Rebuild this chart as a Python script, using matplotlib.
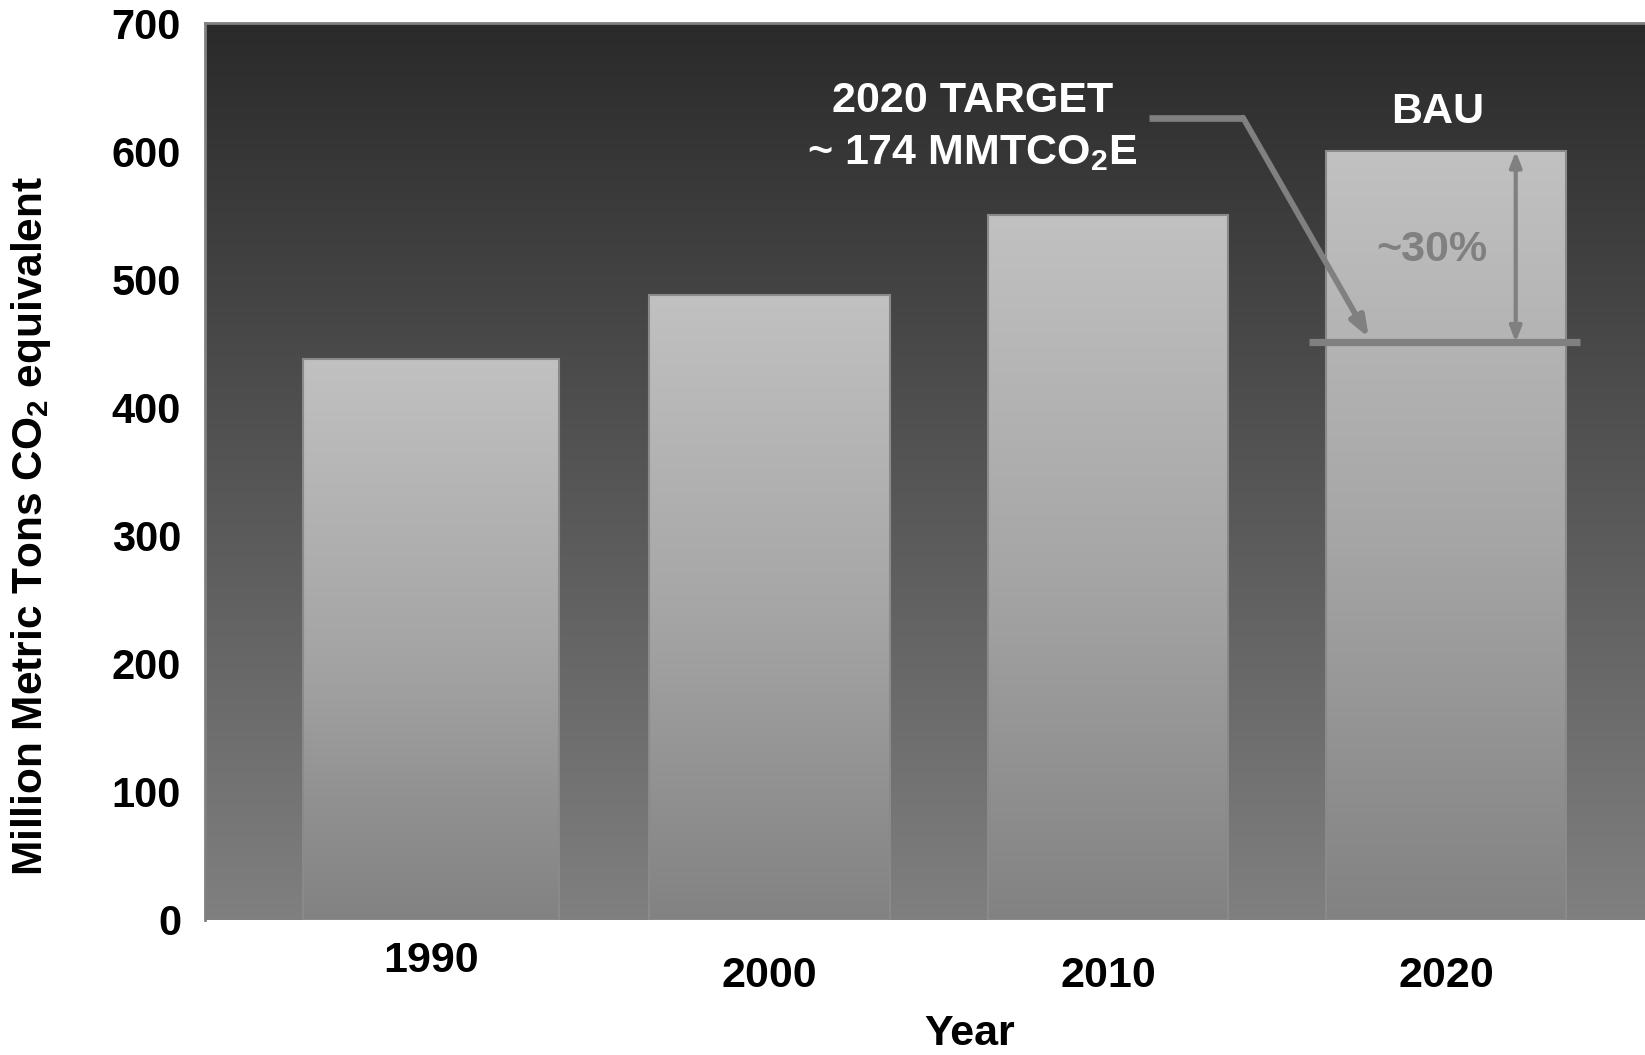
import matplotlib
matplotlib.use("Agg")
import matplotlib.pyplot as plt
import numpy as np
from matplotlib.colors import LinearSegmentedColormap
from matplotlib.patches import Rectangle

plt.rcParams['font.family'] = ['Liberation Sans', 'DejaVu Sans']
plt.rcParams['font.weight'] = 'bold'
plt.rcParams['mathtext.fontset'] = 'custom'
plt.rcParams['mathtext.rm'] = 'Liberation Sans:bold'
plt.rcParams['mathtext.it'] = 'Liberation Sans:bold'
plt.rcParams['mathtext.bf'] = 'Liberation Sans:bold'

# ---- data ----
years = ["1990", "2000", "2010", "2020"]
emissions = [438, 488, 550, 600]
target_2020 = 451
y_ticks = [0, 100, 200, 300, 400, 500, 600, 700]

# ---- styles ----
bar_widths = [0.757, 0.71, 0.71, 0.71]
FS = 31
FS_TICK = 30

fig = plt.figure(figsize=(16.45, 10.55), dpi=100)
ax = fig.add_axes([0.1244, 0.128, 0.8756, 0.850])
xlim = (-0.6695, 3.587)
ylim = (0, 700)
ax.set_xlim(*xlim)
ax.set_ylim(*ylim)

# background gradient
bg_cmap = LinearSegmentedColormap.from_list("bg", ["#808080", "#2a2a2a"])
grad = np.linspace(0, 1, 256).reshape(-1, 1)
ax.imshow(grad, cmap=bg_cmap, origin="lower", aspect="auto",
          extent=[xlim[0], xlim[1], ylim[0], ylim[1]], zorder=0)

# bars with gradient fill
bar_cmap = LinearSegmentedColormap.from_list("bar", ["#828282", "#a6a6a6", "#c1c1c1"])
x = np.arange(len(years))
bars = ax.bar(x, emissions, width=bar_widths, facecolor="none",
              edgecolor="#8a8a8a", linewidth=1.5, zorder=3)
for b in bars:
    x0, w, h = b.get_x(), b.get_width(), b.get_height()
    im = ax.imshow(grad, cmap=bar_cmap, origin="lower", aspect="auto",
                   extent=[x0, x0 + w, 0, h], zorder=2)
    clip = Rectangle((x0, 0), w, h, transform=ax.transData)
    im.set_clip_path(clip)
ax.set_xlim(*xlim)
ax.set_ylim(*ylim)

# target line
ax.plot([2.595, 3.396], [target_2020, target_2020], color="#808080",
        linewidth=5.2, solid_capstyle="butt", zorder=5)

# double arrow BAU -> target
ax.annotate("", xy=(3.205, emissions[3]), xytext=(3.205, target_2020),
            arrowprops=dict(arrowstyle="<|-|>,head_length=0.9,head_width=0.35",
                            color="#808080", lw=3, shrinkA=0, shrinkB=0), zorder=6)

# leader line with arrow
ax.plot([2.120, 2.399], [626.3, 626.3], color="#808080", linewidth=4.8,
        solid_capstyle="butt", zorder=6)
ax.annotate("", xy=(2.771, 454.5), xytext=(2.399, 626.3),
            arrowprops=dict(arrowstyle="-|>,head_length=1.2,head_width=0.45",
                            color="#808080", lw=4.2, shrinkA=0, shrinkB=0), zorder=6)

# annotation texts
ax.text(1.6, 639.2, "2020 TARGET", color="white", fontsize=FS, fontweight="bold",
        ha="center", va="center", zorder=7)
ax.text(1.6, 598.5, r"~ 174 MMTCO$_2$E", color="white", fontsize=FS, fontweight="bold",
        ha="center", va="center", zorder=7)
ax.text(2.973, 630.7, "BAU", color="white", fontsize=FS, fontweight="bold",
        ha="center", va="center", zorder=7)
ax.text(2.958, 523.0, "~30%", color="#808080", fontsize=FS, fontweight="bold",
        ha="center", va="center", zorder=7)

# axes styling
for s in ["top", "left"]:
    ax.spines[s].set_color("#808080")
    ax.spines[s].set_linewidth(2)
for s in ["right", "bottom"]:
    ax.spines[s].set_visible(False)

ax.set_yticks(y_ticks)
ax.set_yticklabels([str(v) for v in y_ticks], fontsize=FS_TICK, fontweight="bold")
ax.tick_params(axis="y", length=0, pad=17)
ax.set_xticks([])

# x category labels (1990 sits higher than the others)
label_offsets = [-41, -56, -56, -56]
for xi, lab, off in zip(x, years, label_offsets):
    ax.annotate(lab, xy=(xi, 0), xycoords=("data", "axes fraction"),
                xytext=(0, off), textcoords="offset pixels",
                ha="center", va="center", fontsize=FS, fontweight="bold")

fig.text(970 / 1645, 1 - 1034 / 1055, "Year", fontsize=FS, fontweight="bold",
         ha="center", va="center")
fig.text(31.5 / 1645, 1 - 525.6 / 1055, r"Million Metric Tons CO$_2$ equivalent",
         fontsize=30.5, fontweight="bold", rotation=90, ha="center", va="center")

fig.savefig("out.png", dpi=100)
